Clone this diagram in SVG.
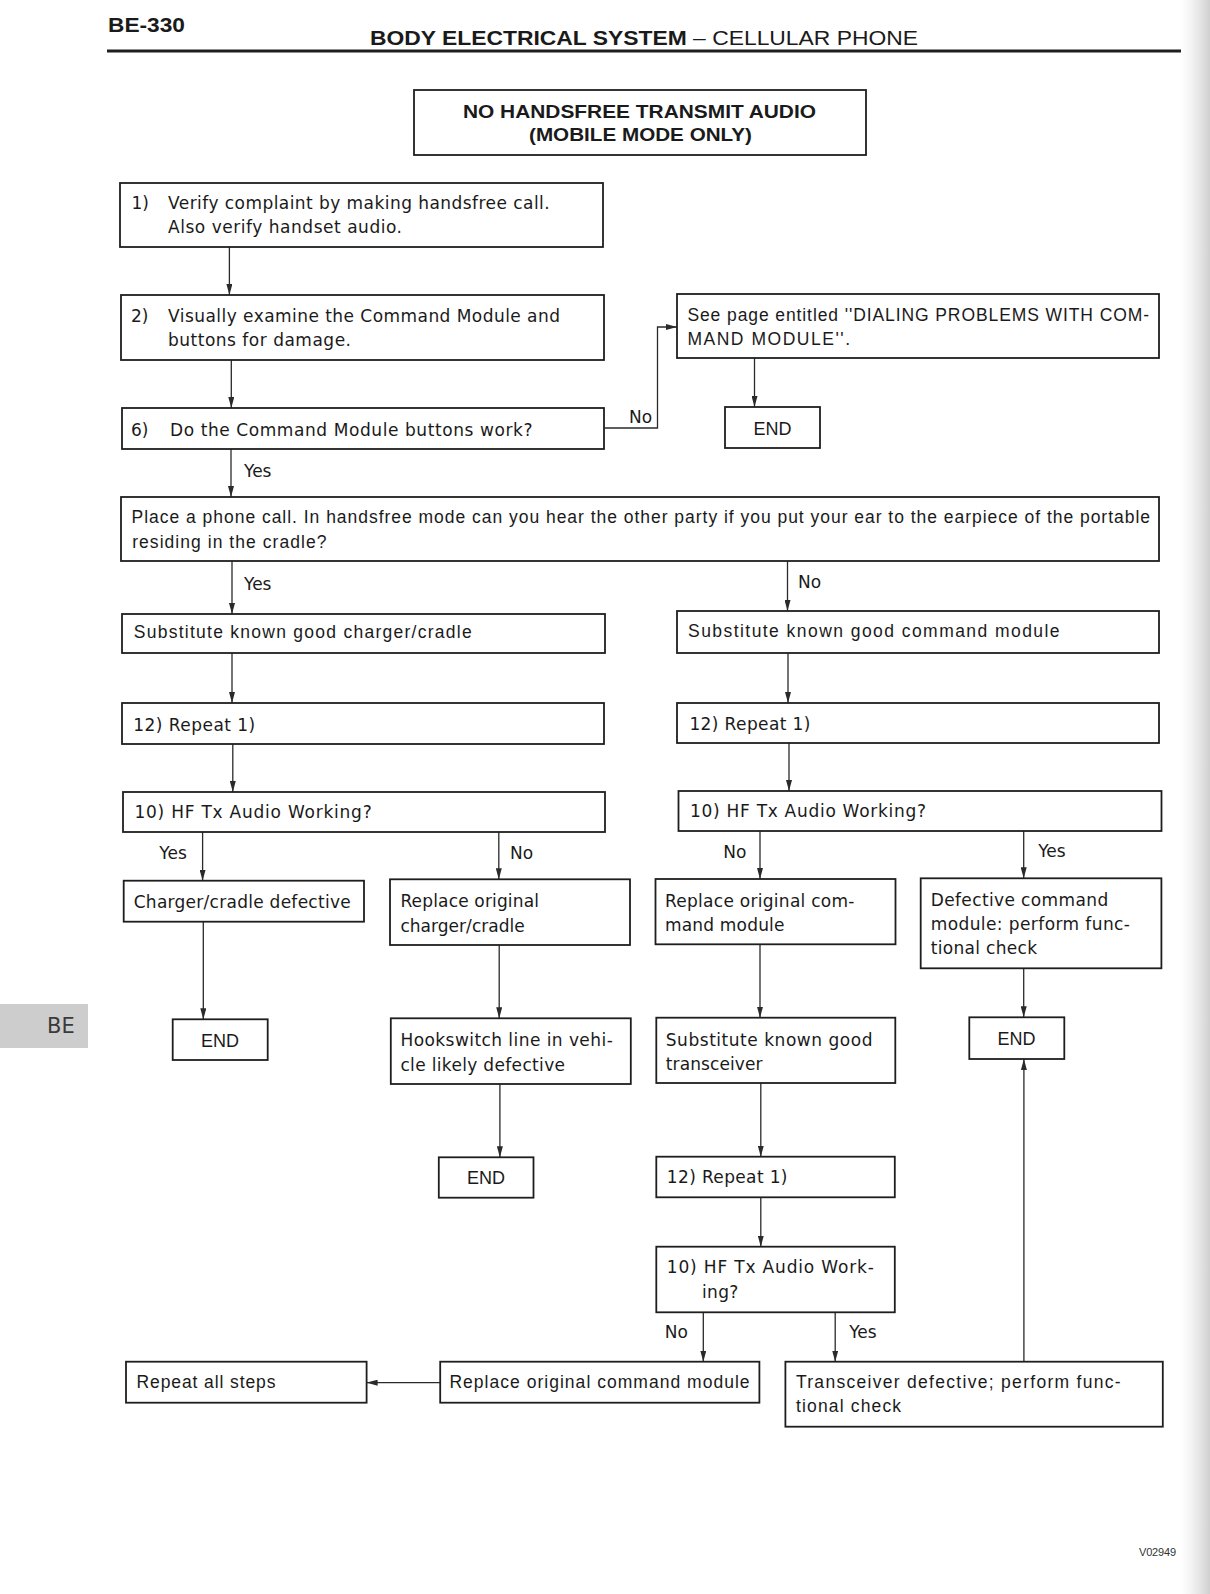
<svg xmlns="http://www.w3.org/2000/svg" width="1210" height="1594" viewBox="0 0 1210 1594">
<style>
.bx{fill:#fff;stroke:#1e1e1e;stroke-width:1.8}
.c{fill:none;stroke:#2a2a2a;stroke-width:1.3;marker-end:url(#ah)}
.t{font-family:"DejaVu Sans",sans-serif;font-size:17px;fill:#1a1a1a}
.h{font-family:"Liberation Sans",Arial,sans-serif;font-size:17.5px;fill:#1a1a1a}
.e{font-family:"Liberation Sans",Arial,sans-serif;font-size:18px;fill:#1a1a1a;text-anchor:middle}
.b{font-family:"Liberation Sans",Arial,sans-serif;font-weight:bold;fill:#1a1a1a}
</style>
<defs>
<marker id="ah" markerUnits="userSpaceOnUse" markerWidth="11" markerHeight="6" refX="11" refY="3" orient="auto">
<path d="M0,0 L11,3 L0,6 z" fill="#2a2a2a"/>
</marker>
<linearGradient id="edge" x1="0" y1="0" x2="1" y2="0">
<stop offset="0" stop-color="#e6e6e6" stop-opacity="0"/>
<stop offset="1" stop-color="#cfcfcf" stop-opacity="1"/>
</linearGradient>
</defs>
<rect width="1210" height="1594" fill="#fff"/>
<rect x="1180" y="0" width="30" height="1594" fill="url(#edge)"/>

<g id="header">
<text class="b" x="108" y="31.7" font-size="21" textLength="77" lengthAdjust="spacingAndGlyphs">BE-330</text>
<text class="b" x="370" y="45" font-size="21" textLength="548" lengthAdjust="spacingAndGlyphs">BODY ELECTRICAL SYSTEM <tspan font-weight="normal">– CELLULAR PHONE</tspan></text>
<line x1="107" y1="51" x2="1181" y2="51" stroke="#1e1e1e" stroke-width="3"/>
</g>

<g id="side-tab">
<rect x="0" y="1004" width="88" height="44" fill="#cdcdcd"/>
<text x="47" y="1033" font-family="DejaVu Sans,sans-serif" font-size="21" fill="#3a3a3a">BE</text>
</g>

<g id="connectors">
<path class="c" d="M229.4,247 V295"/>
<path class="c" d="M231.3,360 V408"/>
<path class="c" d="M604.4,428 H657.5 V327 H677"/>
<path class="c" d="M754.5,358 V407"/>
<path class="c" d="M231,449 V497"/>
<path class="c" d="M232,561 V614"/>
<path class="c" d="M787.5,561 V611"/>
<path class="c" d="M232,653 V703"/>
<path class="c" d="M788,653 V703"/>
<path class="c" d="M232.8,744 V792"/>
<path class="c" d="M789,743 V791"/>
<path class="c" d="M202.6,832 V880.7"/>
<path class="c" d="M498.8,832 V879.3"/>
<path class="c" d="M203.3,921.7 V1019.3"/>
<path class="c" d="M499.2,945 V1018.3"/>
<path class="c" d="M499.9,1084 V1157.3"/>
<path class="c" d="M760,831 V879"/>
<path class="c" d="M1023.7,831 V878.3"/>
<path class="c" d="M760,944.3 V1017.7"/>
<path class="c" d="M1023.7,968.3 V1017.3"/>
<path class="c" d="M760.8,1083 V1156.7"/>
<path class="c" d="M760.8,1197.3 V1246.7"/>
<path class="c" d="M703.3,1312.3 V1361.7"/>
<path class="c" d="M835.2,1312.3 V1361.7"/>
<path class="c" d="M440.2,1382.7 H366.6"/>
<path class="c" d="M1023.9,1361.7 V1059"/>
<text class="t" x="629" y="423">No</text>
<text class="t" x="244" y="477">Yes</text>
<text class="t" x="244" y="590">Yes</text>
<text class="t" x="798" y="588">No</text>
<text class="t" x="159.3" y="859.3">Yes</text>
<text class="t" x="510" y="859">No</text>
<text class="t" x="723.2" y="858.3">No</text>
<text class="t" x="1038.2" y="857.3">Yes</text>
<text class="t" x="664.7" y="1338.3">No</text>
<text class="t" x="849.2" y="1338">Yes</text>
</g>

<g id="title">
<rect class="bx" x="414" y="90" width="452" height="65"/>
<text class="b" x="463" y="118" font-size="18" textLength="353" lengthAdjust="spacingAndGlyphs">NO HANDSFREE TRANSMIT AUDIO</text>
<text class="b" x="529" y="140.5" font-size="18" textLength="223" lengthAdjust="spacingAndGlyphs">(MOBILE MODE ONLY)</text>
</g>

<g id="step1">
<rect class="bx" x="120" y="183" width="483" height="64"/>
<text class="t" x="131.4" y="209.3">1)</text>
<text class="t" x="168" y="209.3" textLength="381.7">Verify complaint by making handsfree call.</text>
<text class="t" x="168" y="233.3" textLength="234">Also verify handset audio.</text>
</g>

<g id="step2">
<rect class="bx" x="121" y="295" width="483" height="65"/>
<text class="t" x="131" y="321.7">2)</text>
<text class="t" x="168" y="321.7" textLength="392">Visually examine the Command Module and</text>
<text class="t" x="168" y="346" textLength="183">buttons for damage.</text>
</g>

<g id="step6">
<rect class="bx" x="122" y="408" width="482" height="41"/>
<text class="t" x="131" y="435.7">6)</text>
<text class="t" x="170" y="435.7" textLength="362.5">Do the Command Module buttons work?</text>
</g>

<g id="see-page">
<rect class="bx" x="677" y="294" width="482" height="64"/>
<text class="h" x="687.4" y="320.5" textLength="461.6">See page entitled ''DIALING PROBLEMS WITH COM-</text>
<text class="h" x="687.4" y="344.8" textLength="162.6">MAND MODULE''.</text>
</g>

<g id="end1">
<rect class="bx" x="725" y="407" width="95" height="41"/>
<text class="e" x="772.5" y="435">END</text>
</g>

<g id="phone-call">
<rect class="bx" x="121" y="497" width="1038" height="64"/>
<text class="h" x="131.6" y="523.3" textLength="1018.4">Place a phone call. In handsfree mode can you hear the other party if you put your ear to the earpiece of the portable</text>
<text class="h" x="132.2" y="548.3" textLength="194.2">residing in the cradle?</text>
</g>

<g id="sub-charger">
<rect class="bx" x="122" y="614" width="483" height="39"/>
<text class="h" x="133.7" y="638.3" textLength="338">Substitute known good charger/cradle</text>
</g>

<g id="sub-command">
<rect class="bx" x="677" y="611" width="482" height="42"/>
<text class="h" x="688" y="636.7" textLength="371.6">Substitute known good command module</text>
</g>

<g id="repeat-left">
<rect class="bx" x="122" y="703" width="482" height="41"/>
<text class="t" x="133.2" y="730.5" textLength="122">12) Repeat 1)</text>
</g>

<g id="repeat-right">
<rect class="bx" x="677" y="703" width="482" height="40"/>
<text class="t" x="689.4" y="730" textLength="121">12) Repeat 1)</text>
</g>

<g id="hf-left">
<rect class="bx" x="123" y="792" width="482" height="40"/>
<text class="t" x="134.4" y="818.3" textLength="237.3">10) HF Tx Audio Working?</text>
</g>

<g id="hf-right">
<rect class="bx" x="678.5" y="791" width="483" height="40"/>
<text class="t" x="690" y="817.3" textLength="236">10) HF Tx Audio Working?</text>
</g>

<g id="charger-defective">
<rect class="bx" x="123.7" y="880.7" width="240.3" height="41"/>
<text class="t" x="133.7" y="907.7" textLength="217">Charger/cradle defective</text>
</g>

<g id="replace-charger">
<rect class="bx" x="390" y="879.3" width="240" height="65.7"/>
<text class="t" x="400.4" y="907.3" textLength="138.6">Replace original</text>
<text class="t" x="400.4" y="931.7" textLength="124.4">charger/cradle</text>
</g>

<g id="end-left">
<rect class="bx" x="172.7" y="1019.3" width="95" height="40.7"/>
<text class="e" x="220" y="1046.7">END</text>
</g>

<g id="hookswitch">
<rect class="bx" x="390.8" y="1018.3" width="240" height="65.7"/>
<text class="t" x="400.4" y="1046" textLength="212.4">Hookswitch line in vehi-</text>
<text class="t" x="400.4" y="1070.7" textLength="164.6">cle likely defective</text>
</g>

<g id="end-middle">
<rect class="bx" x="438.8" y="1157.3" width="94.7" height="40.4"/>
<text class="e" x="486" y="1183.5">END</text>
</g>

<g id="replace-command">
<rect class="bx" x="655.5" y="879" width="240" height="65.3"/>
<text class="t" x="665" y="906.7" textLength="189.5">Replace original com-</text>
<text class="t" x="665" y="930.7" textLength="119.5">mand module</text>
</g>

<g id="defective-command">
<rect class="bx" x="920.7" y="878.3" width="240.7" height="90"/>
<text class="t" x="930.7" y="906" textLength="177.5">Defective command</text>
<text class="t" x="930.7" y="930" textLength="199.3">module: perform func-</text>
<text class="t" x="930.7" y="954.3" textLength="106.3">tional check</text>
</g>

<g id="sub-transceiver">
<rect class="bx" x="656.3" y="1017.7" width="239" height="65.3"/>
<text class="t" x="665.8" y="1045.7" textLength="206.7">Substitute known good</text>
<text class="t" x="665.8" y="1070" textLength="96.8">transceiver</text>
</g>

<g id="end-right">
<rect class="bx" x="969.3" y="1017.3" width="95" height="41.7"/>
<text class="e" x="1016.6" y="1045">END</text>
</g>

<g id="repeat-bottom">
<rect class="bx" x="656.3" y="1156.7" width="238.5" height="40.6"/>
<text class="t" x="666.8" y="1183.3" textLength="120.7">12) Repeat 1)</text>
</g>

<g id="hf-bottom">
<rect class="bx" x="656.3" y="1246.7" width="238.5" height="65.6"/>
<text class="t" x="666.8" y="1273.3" textLength="207">10) HF Tx Audio Work-</text>
<text class="t" x="701.9" y="1298.3" textLength="36.5">ing?</text>
</g>

<g id="replace-command-bottom">
<rect class="bx" x="440.2" y="1361.7" width="319.2" height="41"/>
<text class="h" x="449.4" y="1388.3" textLength="300.2">Replace original command module</text>
</g>

<g id="repeat-all">
<rect class="bx" x="126" y="1361.7" width="240.6" height="41"/>
<text class="h" x="136.5" y="1388.3" textLength="139">Repeat all steps</text>
</g>

<g id="transceiver-defective">
<rect class="bx" x="785.4" y="1361.7" width="377.4" height="65"/>
<text class="h" x="795.9" y="1388.3" textLength="324.8">Transceiver defective; perform func-</text>
<text class="h" x="795.9" y="1411.7" textLength="105.2">tional check</text>
</g>

<text x="1139" y="1556" font-family="Liberation Sans,Arial,sans-serif" font-size="11" fill="#333" textLength="37">V02949</text>
</svg>
